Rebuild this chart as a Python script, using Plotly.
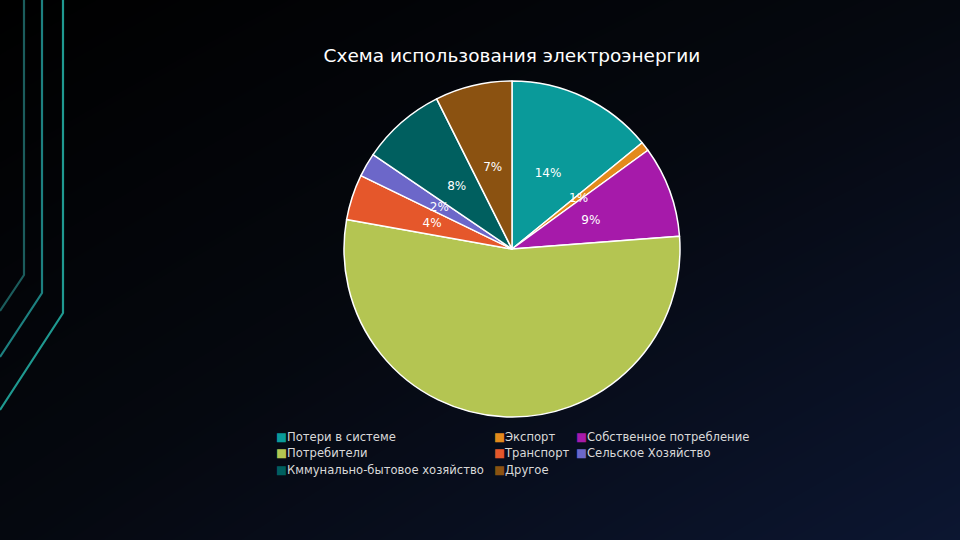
import plotly.graph_objects as go

# ---- data ----
labels = ["Потери в системе", "Экспорт", "Собственное потребление", "Потребители",
          "Транспорт", "Сельское Хозяйство", "Кммунально-бытовое хозяйство", "Другое"]
values = [14.1, 0.9, 8.8, 54.0, 4.4, 2.3, 8.1, 7.4]
colors = ["#0a9a9a", "#e38a1c", "#a61aaa", "#b4c552", "#e5572b", "#6c67c9", "#005f5f", "#8b5211"]
show_label = [True, True, True, False, True, True, True, True]
title_text = "Схема использования электроэнергии"

# legend grid: (column, row) for each label
legend_cells = [(0, 0), (1, 0), (2, 0), (0, 1), (1, 1), (2, 1), (0, 2), (1, 2)]
col_px = [276, 494, 576]
row_px = [436, 452, 469]

W, H = 960, 540
CX, CY, R = 512, 249, 168          # pie centre / radius in px
R_LAB = 86                          # radius of the (invisible) label ring
HOLE_LAB = (2 * 84) / R_LAB - 1     # puts label centres at ~half radius

fig = go.Figure()

# background gradient
fig.add_trace(go.Heatmap(
    z=[[0.45, 1.0], [0.0, 0.45]], x=[0, 1], y=[0, 1],
    zsmooth="best", showscale=False, hoverinfo="skip",
    colorscale=[[0, "#000000"], [0.45, "#05080f"], [1, "#0c1631"]],
))

# main pie
fig.add_trace(go.Pie(
    labels=labels, values=values, sort=False, direction="clockwise", rotation=0,
    marker=dict(colors=colors, line=dict(color="#ffffff", width=1.5)),
    textinfo="none",
    domain=dict(x=[(CX - R) / W, (CX + R) / W], y=[(H - CY - R) / H, (H - CY + R) / H]),
    showlegend=False, hoverinfo="label+percent",
))

# percentage labels at mid radius (transparent thin ring of the same data)
fig.add_trace(go.Pie(
    labels=labels, values=values, sort=False, direction="clockwise", rotation=0,
    hole=HOLE_LAB,
    marker=dict(colors=["rgba(0,0,0,0)"] * len(labels), line=dict(width=0)),
    texttemplate=["%{percent:.0%}" if s else "" for s in show_label],
    textposition="inside", insidetextorientation="horizontal",
    textfont=dict(color="#ffffff", size=12, family="DejaVu Sans"),
    domain=dict(x=[(CX - R_LAB) / W, (CX + R_LAB) / W],
                y=[(H - CY - R_LAB) / H, (H - CY + R_LAB) / H]),
    showlegend=False, hoverinfo="skip",
))

legend_layouts = {}
for i, (lab, col) in enumerate(zip(labels, colors)):
    key = "legend" if i == 0 else f"legend{i + 1}"
    c, r = legend_cells[i]
    fig.add_trace(go.Scatter(
        x=[None], y=[None], mode="markers",
        marker=dict(color="rgba(0,0,0,0)", size=1),
        name=f"<span style='color:{col}'>■</span>{lab}",
        legend=key, showlegend=True,
    ))
    legend_layouts[key] = dict(
        x=(col_px[c] - 40) / W, y=1 - row_px[r] / H, xanchor="left", yanchor="middle",
        bgcolor="rgba(0,0,0,0)", borderwidth=0,
        font=dict(color="#d9d9d9", size=11.6, family="DejaVu Sans"),
    )

shapes = []
lines = [
    (24, 275, 311, "#1b5c5c"),
    (42, 293, 357, "#1d8080"),
    (63, 313, 410, "#1f9990"),
]
for x0, ybend, yend, lc in lines:
    path = (f"M {x0 / W} 1 L {x0 / W} {1 - ybend / H} L 0 {1 - yend / H}")
    shapes.append(dict(type="path", path=path, xref="paper", yref="paper",
                       line=dict(color=lc, width=2.2), layer="above"))

fig.update_layout(
    width=W, height=H,
    margin=dict(l=0, r=0, t=0, b=0),
    paper_bgcolor="#05080f", plot_bgcolor="#05080f",
    xaxis=dict(visible=False, range=[0, 1], domain=[0, 1], fixedrange=True),
    yaxis=dict(visible=False, range=[0, 1], domain=[0, 1], fixedrange=True),
    title=dict(text=title_text, x=512 / W, xanchor="center", y=1 - 56 / H, yanchor="middle",
               font=dict(color="#ffffff", size=18.5, family="DejaVu Sans")),
    uniformtext=dict(minsize=12, mode="show"),
    shapes=shapes,
    **legend_layouts,
)

fig.write_html("out.html")
